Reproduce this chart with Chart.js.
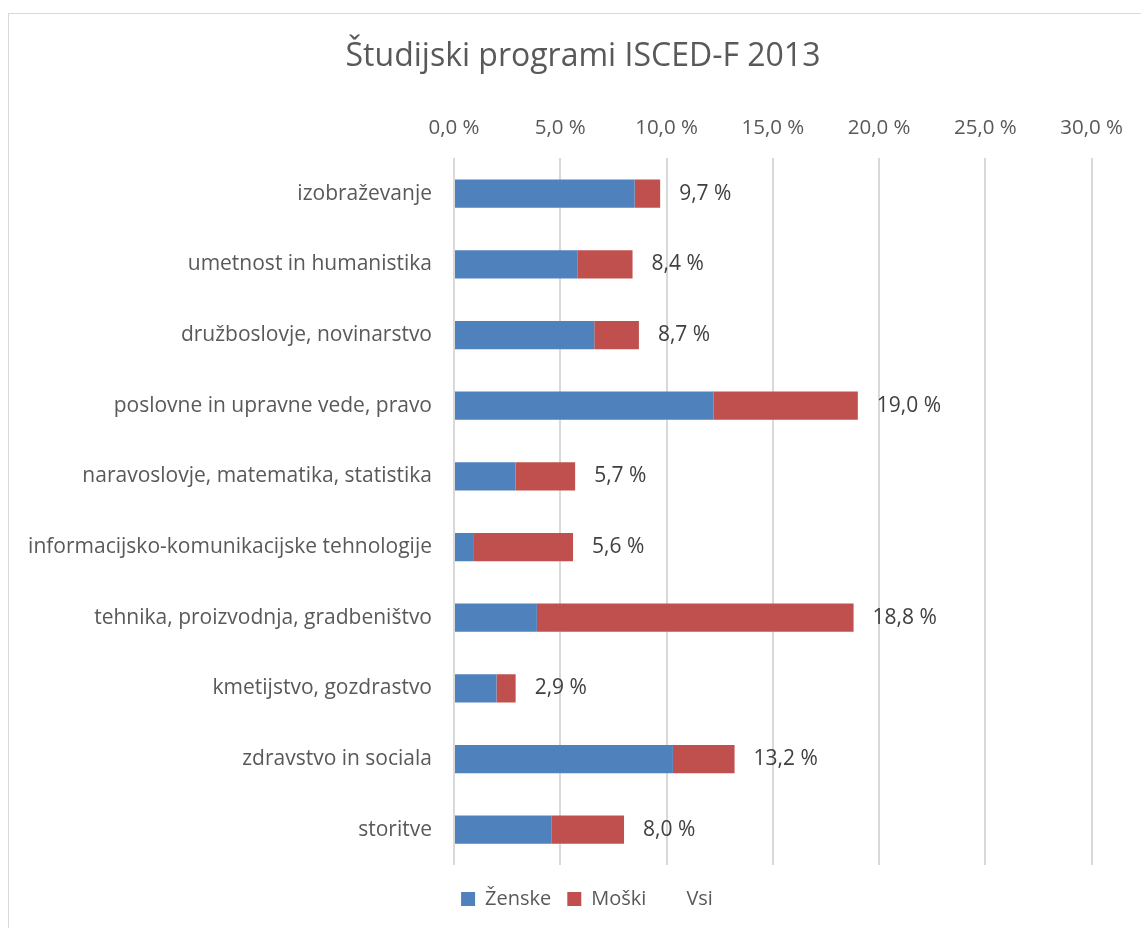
<!DOCTYPE html>
<html>
<head>
<meta charset="utf-8">
<script src="https://cdn.jsdelivr.net/npm/chart.js@4"></script>
<style>
    html, body { margin: 0; padding: 0; background: #fff; }
    #wrap { width: 1141px; height: 928px; }
</style>
</head>
<body>
<div id="wrap"><canvas id="studijChart" width="1141" height="928"></canvas></div>
<script>
const categories = [
    'izobraževanje',
    'umetnost in humanistika',
    'družboslovje, novinarstvo',
    'poslovne in upravne vede, pravo',
    'naravoslovje, matematika, statistika',
    'informacijsko-komunikacijske tehnologije',
    'tehnika, proizvodnja, gradbeništvo',
    'kmetijstvo, gozdrastvo',
    'zdravstvo in sociala',
    'storitve'
];
const zenske = [8.5, 5.8, 6.6, 12.2, 2.9, 0.9, 3.9, 2.0, 10.3, 4.6];
const moski = [1.2, 2.6, 2.1, 6.8, 2.8, 4.7, 14.9, 0.9, 2.9, 3.4];
const vsi = [9.7, 8.4, 8.7, 19.0, 5.7, 5.6, 18.8, 2.9, 13.2, 8.0];
const xTicks = [0, 5, 10, 15, 20, 25, 30];

const fontFamily = '"Open Sans", sans-serif';

function fmt(v) {
    return v.toFixed(1).replace('.', ',') + ' %';
}

// white background + thin frame like the Excel chart area
const framePlugin = {
    id: 'frame',
    beforeDraw(chart) {
        const c = chart.ctx;
        c.save();
        c.fillStyle = '#ffffff';
        c.fillRect(0, 0, chart.width, chart.height);
        c.strokeStyle = '#d9d9d9';
        c.lineWidth = 1;
        c.strokeRect(8.5, 13.5, chart.width + 10, chart.height + 10);
        c.restore();
    }
};

// nudge title and legend right (and legend down), like in the Excel original
const boxShift = {
    id: 'boxShift',
    afterLayout(chart) {
        const lg = chart.legend;
        lg.left += 36;
        lg.right += 36;
        lg.top += 8;
        lg.bottom += 8;
        const tb = chart.titleBlock;
        tb.left += 32;
        tb.right += 32;
    }
};

// total labels (Vsi) placed right of the stacked bars
const totalLabels = {
    id: 'totalLabels',
    afterDatasetsDraw(chart) {
        const c = chart.ctx;
        const xs = chart.scales.x;
        const meta = chart.getDatasetMeta(2);
        c.save();
        c.font = '21px ' + fontFamily;
        c.fillStyle = '#404040';
        c.textAlign = 'left';
        c.textBaseline = 'middle';
        vsi.forEach((v, i) => {
            const px = xs.getPixelForValue(v);
            c.fillText(fmt(v), px + 19, meta.data[i].y);
        });
        c.restore();
    }
};

const ctx = document.getElementById('studijChart').getContext('2d');

let studijChart = new Chart(ctx, {
    type: 'bar',
    data: {
        labels: categories,
        datasets: [{
            label: 'Ženske',
            data: zenske,
            backgroundColor: '#4f81bd',
            barPercentage: 0.8,
            categoryPercentage: 0.5
        }, {
            label: 'Moški',
            data: moski,
            backgroundColor: '#c0504d',
            barPercentage: 0.8,
            categoryPercentage: 0.5
        }, {
            type: 'line',
            label: 'Vsi',
            data: vsi,
            showLine: false,
            pointRadius: 0,
            borderColor: 'rgba(0,0,0,0)',
            backgroundColor: 'rgba(0,0,0,0)'
        }]
    },
    options: {
        indexAxis: 'y',
        responsive: false,
        animation: false,
        layout: {
            padding: { top: 20, left: 8, right: 47, bottom: 17 }
        },
        plugins: {
            title: {
                display: true,
                text: 'Študijski programi ISCED-F 2013',
                color: '#595959',
                font: { family: fontFamily, size: 32, weight: 'normal' },
                padding: { top: 18, bottom: 10 }
            },
            legend: {
                position: 'bottom',
                labels: {
                    color: '#595959',
                    font: { family: fontFamily, size: 20 },
                    boxWidth: 14,
                    boxHeight: 14,
                    padding: 16
                }
            },
            tooltip: { enabled: false }
        },
        scales: {
            x: {
                position: 'top',
                stacked: true,
                min: 0,
                max: 30,
                afterBuildTicks(scale) {
                    scale.ticks = xTicks.map(v => ({ value: v }));
                },
                afterFit(scale) {
                    scale.height = 72;
                },
                ticks: {
                    color: '#595959',
                    font: { family: fontFamily, size: 20.5 },
                    padding: 18,
                    callback: v => fmt(v)
                },
                grid: {
                    color: '#d9d9d9',
                    lineWidth: 2,
                    drawTicks: false
                },
                border: { display: false }
            },
            y: {
                stacked: true,
                afterFit(scale) {
                    scale.width = 446;
                },
                ticks: {
                    color: '#595959',
                    font: { family: fontFamily, size: 21 },
                    padding: 22
                },
                grid: { display: false, drawTicks: false },
                border: { display: false }
            }
        }
    },
    plugins: [framePlugin, boxShift, totalLabels]
});
</script>
</body>
</html>
